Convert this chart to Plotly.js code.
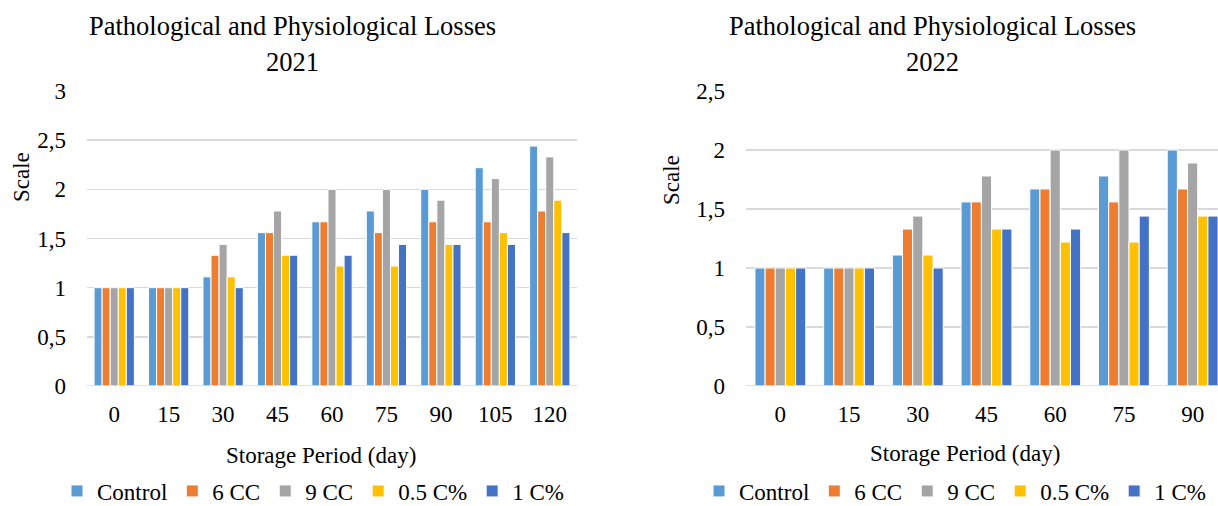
<!DOCTYPE html>
<html>
<head>
<meta charset="utf-8">
<script src="https://cdn.plot.ly/plotly-3.0.1.min.js"></script>
<style>
html,body{margin:0;padding:0;overflow:hidden;background:#fff}
#chart text{font-family:"Liberation Serif",serif !important;}
</style>
</head>
<body>
<div id="chart" style="width:1218px;height:506px"></div>
<script>
var seriesNames = ["Control", "6 CC", "9 CC", "0.5 C%", "1 C%"];
var seriesColors = ["#5B9BD5", "#ED7D31", "#A5A5A5", "#FFC000", "#4472C4"];

var days2021 = ["0", "15", "30", "45", "60", "75", "90", "105", "120"];
var control2021 = [1, 1, 1.11, 1.56, 1.67, 1.78, 2.0, 2.22, 2.44];
var cc6_2021    = [1, 1, 1.33, 1.56, 1.67, 1.56, 1.67, 1.67, 1.78];
var cc9_2021    = [1, 1, 1.44, 1.78, 2.0, 2.0, 1.89, 2.11, 2.33];
var c05_2021    = [1, 1, 1.11, 1.33, 1.22, 1.22, 1.44, 1.56, 1.89];
var c1_2021     = [1, 1, 1.0, 1.33, 1.33, 1.44, 1.44, 1.44, 1.56];

var days2022 = ["0", "15", "30", "45", "60", "75", "90"];
var control2022 = [1, 1, 1.11, 1.56, 1.67, 1.78, 2.0];
var cc6_2022    = [1, 1, 1.33, 1.56, 1.67, 1.56, 1.67];
var cc9_2022    = [1, 1, 1.44, 1.78, 2.0, 2.0, 1.89];
var c05_2022    = [1, 1, 1.11, 1.33, 1.22, 1.22, 1.44];
var c1_2022     = [1, 1, 1.0, 1.33, 1.33, 1.44, 1.44];

var titleLine1 = "Pathological and Physiological Losses";
var titleYear2021 = "2021";
var titleYear2022 = "2022";
var xTitle = "Storage Period (day)";
var yTitle = "Scale";

var FONT = "Liberation Serif";
var FS = 23;
var data2021 = [control2021, cc6_2021, cc9_2021, c05_2021, c1_2021];
var data2022 = [control2022, cc6_2022, cc9_2022, c05_2022, c1_2022];

var traces = [];
seriesNames.forEach(function(name, i){
  traces.push({type:"bar", name:name, x:days2021, y:data2021[i], xaxis:"x", yaxis:"y",
    marker:{color:seriesColors[i], line:{color:"#ffffff", width:1}}, legend:"legend", hoverinfo:"y"});
});
seriesNames.forEach(function(name, i){
  traces.push({type:"bar", name:name, x:days2022, y:data2022[i], xaxis:"x2", yaxis:"y2",
    marker:{color:seriesColors[i], line:{color:"#ffffff", width:1}}, legend:"legend2", hoverinfo:"y"});
});

function tf(){ return {family:FONT, size:FS, color:"#000"}; }
function ann(text, px, py, size, angle){
  var a = {text:text, xref:"paper", yref:"paper", x:px/1218, y:1-py/506, xanchor:"center",
    yanchor:"middle", showarrow:false, font:{family:FONT, size:size, color:"#000"}};
  if (angle) a.textangle = angle;
  return a;
}
var yDom = [1 - 386/506, 1 - 91/506];
var layout = {
  width:1218, height:506,
  margin:{l:0, r:0, t:0, b:0, autoexpand:false},
  paper_bgcolor:"#fff", plot_bgcolor:"#fff",
  separators:",.",
  barmode:"group", bargap:0.26, bargroupgap:0,
  font:{family:FONT, color:"#000", size:FS},
  xaxis:{domain:[87/1218, 577/1218], anchor:"y", type:"category", showline:false, zeroline:false,
    ticks:"", tickfont:tf(), showgrid:false, ticklabelstandoff:12, range:[-0.5, 8.5]},
  yaxis:{domain:yDom, anchor:"x", range:[0,3], dtick:0.5, showline:false, zeroline:false,
    ticks:"", tickfont:tf(), showgrid:true, gridcolor:"#D9D9D9", gridwidth:1.5, ticklabelstandoff:20},
  xaxis2:{domain:[746/1218, 1], anchor:"y2", type:"category", showline:false, zeroline:false,
    ticks:"", tickfont:tf(), showgrid:false, ticklabelstandoff:12, range:[-0.5, 6.5 - 9/68.7]},
  yaxis2:{domain:yDom, anchor:"x2", range:[0,2.5], dtick:0.5, showline:false, zeroline:false,
    ticks:"", tickfont:tf(), showgrid:true, gridcolor:"#D9D9D9", gridwidth:1.5, ticklabelstandoff:20},
  shapes:[
    {type:"line", xref:"x domain", yref:"y", x0:0, x1:1, y0:0, y1:0, line:{color:"#D9D9D9", width:1.5}},
    {type:"line", xref:"x2 domain", yref:"y2", x0:0, x1:1, y0:0, y1:0, line:{color:"#D9D9D9", width:1.5}}
  ],
  legend:{orientation:"h", x:57/1218, y:1-491/506, xanchor:"left", yanchor:"middle",
    font:tf(), traceorder:"normal", bgcolor:"rgba(0,0,0,0)"},
  legend2:{orientation:"h", x:699/1218, y:1-491/506, xanchor:"left", yanchor:"middle",
    font:tf(), traceorder:"normal", bgcolor:"rgba(0,0,0,0)"},
  annotations:[
    ann(titleLine1, 292, 26, 26.5),
    ann(titleYear2021, 292, 62, 26.5),
    ann(titleLine1, 932, 26, 26.5),
    ann(titleYear2022, 932, 62, 26.5),
    ann(yTitle, 21, 177, FS, -90),
    ann(yTitle, 672, 180, FS, -90),
    ann(xTitle, 321, 455, FS),
    ann(xTitle, 965, 453, FS)
  ]
};
Plotly.newPlot("chart", traces, layout, {displayModeBar:false, staticPlot:true});
</script>
</body>
</html>
